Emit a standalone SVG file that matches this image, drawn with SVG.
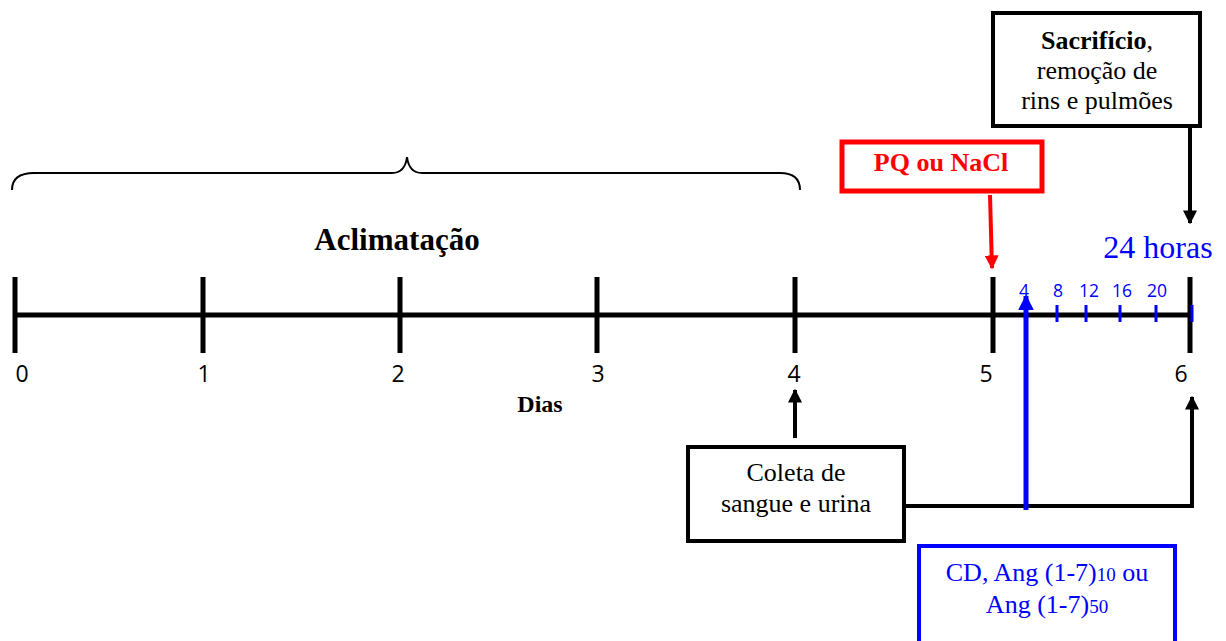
<svg xmlns="http://www.w3.org/2000/svg" width="1226" height="641" viewBox="0 0 1226 641">
  <defs>
    <marker id="ah-black" viewBox="0 0 10 10" refX="9" refY="5" markerWidth="3.5" markerHeight="3.5" orient="auto" markerUnits="strokeWidth">
      <path d="M0,0 L10,5 L0,10 z" fill="#000"/>
    </marker>
    <marker id="ah-red" viewBox="0 0 10 10" refX="9" refY="5" markerWidth="3.5" markerHeight="3.5" orient="auto" markerUnits="strokeWidth">
      <path d="M0,0 L10,5 L0,10 z" fill="#ff0000"/>
    </marker>
    <marker id="ah-blue" viewBox="0 0 10 10" refX="9" refY="5" markerWidth="3.2" markerHeight="3.2" orient="auto" markerUnits="strokeWidth">
      <path d="M0,0 L10,5 L0,10 z" fill="#0000ff"/>
    </marker>
  </defs>
  <style>
    .serif { font-family: "Liberation Serif", "Times New Roman", serif; }
    .sans { font-family: "Open Sans", "Liberation Sans", sans-serif; }
    .axis { stroke: #000; stroke-width: 5; fill: none; }
    .tick { stroke: #000; stroke-width: 5; }
    .btick { stroke: #0000ff; stroke-width: 3; }
    .box { fill: #fff; stroke: #000; stroke-width: 4; }
    .day { font-size: 23px; fill: #000; }
    .hour { font-size: 17.5px; fill: #0000ff; }
    .label { font-size: 26px; }
  </style>
  <rect width="1226" height="641" fill="#fff"/>

  <!-- brace over the acclimation days -->
  <g id="brace">
    <path d="M12,190 Q12,173 34,173 L392,173 Q405,173 407,157 Q409,173 422,173 L780,173 Q800,173 800,190" fill="none" stroke="#000" stroke-width="2"/>
    <text x="397" y="250" text-anchor="middle" class="serif" font-size="31" font-weight="bold">Aclimatação</text>
  </g>

  <!-- day axis -->
  <g id="axis">
    <line x1="14" y1="315" x2="1193" y2="315" class="axis"/>
    <line x1="15" y1="277" x2="15" y2="353" class="tick"/>
    <line x1="203" y1="277" x2="203" y2="353" class="tick"/>
    <line x1="400" y1="277" x2="400" y2="353" class="tick"/>
    <line x1="597" y1="277" x2="597" y2="353" class="tick"/>
    <line x1="795" y1="277" x2="795" y2="353" class="tick"/>
    <line x1="993" y1="277" x2="993" y2="353" class="tick"/>
    <line x1="1190" y1="277" x2="1190" y2="353" class="tick"/>
    <text x="22" y="382" text-anchor="middle" class="sans day">0</text>
    <text x="204" y="382" text-anchor="middle" class="sans day">1</text>
    <text x="398" y="382" text-anchor="middle" class="sans day">2</text>
    <text x="598" y="382" text-anchor="middle" class="sans day">3</text>
    <text x="794" y="382" text-anchor="middle" class="sans day">4</text>
    <text x="986" y="382" text-anchor="middle" class="sans day">5</text>
    <text x="1181" y="382" text-anchor="middle" class="sans day">6</text>
    <text x="540" y="412" text-anchor="middle" class="serif" font-size="24" font-weight="bold">Dias</text>
  </g>

  <!-- hour subdivisions of the last day -->
  <g id="hours">
    <line x1="1057" y1="305" x2="1057" y2="322" class="btick"/>
    <line x1="1086" y1="305" x2="1086" y2="322" class="btick"/>
    <line x1="1120" y1="305" x2="1120" y2="322" class="btick"/>
    <line x1="1156" y1="305" x2="1156" y2="322" class="btick"/>
    <line x1="1192" y1="305" x2="1192" y2="322" class="btick"/>
    <text x="1024" y="297" text-anchor="middle" class="sans hour">4</text>
    <text x="1058" y="297" text-anchor="middle" class="sans hour">8</text>
    <text x="1089" y="297" text-anchor="middle" class="sans hour">12</text>
    <text x="1122" y="297" text-anchor="middle" class="sans hour">16</text>
    <text x="1157" y="297" text-anchor="middle" class="sans hour">20</text>
    <text x="1158" y="258" text-anchor="middle" class="serif" font-size="32" fill="#0000ff">24 horas</text>
  </g>

  <!-- connectors -->
  <g id="connectors">
    <line x1="990" y1="195" x2="992" y2="268" stroke="#ff0000" stroke-width="4" marker-end="url(#ah-red)"/>
    <line x1="1190" y1="127" x2="1190" y2="223" stroke="#000" stroke-width="4" marker-end="url(#ah-black)"/>
    <line x1="795" y1="438" x2="795" y2="390" stroke="#000" stroke-width="4" marker-end="url(#ah-black)"/>
    <polyline points="905,506 1192,506 1192,397" fill="none" stroke="#000" stroke-width="4" marker-end="url(#ah-black)"/>
    <line x1="1026" y1="510" x2="1026" y2="296" stroke="#0000ff" stroke-width="5" marker-end="url(#ah-blue)"/>
  </g>

  <!-- treatment box -->
  <g id="treatment">
    <rect x="842" y="142" width="200" height="49" fill="#fff" stroke="#ff0000" stroke-width="5"/>
    <text x="941" y="171" text-anchor="middle" class="serif" font-size="26" font-weight="bold" fill="#ff0000">PQ ou NaCl</text>
  </g>

  <!-- sacrifice box -->
  <g id="sacrifice">
    <rect x="993" y="13" width="207" height="113" class="box"/>
    <text x="1097" y="49" text-anchor="middle" class="serif label"><tspan font-weight="bold">Sacrifício</tspan>,</text>
    <text x="1097" y="79" text-anchor="middle" class="serif label">remoção de</text>
    <text x="1097" y="109" text-anchor="middle" class="serif label">rins e pulmões</text>
  </g>

  <!-- sampling box -->
  <g id="sampling">
    <rect x="688" y="447" width="216" height="94" class="box"/>
    <text x="796" y="481" text-anchor="middle" class="serif label">Coleta de</text>
    <text x="796" y="512" text-anchor="middle" class="serif label">sangue e urina</text>
  </g>

  <!-- treatment groups box -->
  <g id="groups">
    <rect x="919" y="546" width="256" height="100" fill="#fff" stroke="#0000ff" stroke-width="4"/>
    <text x="1047" y="581" text-anchor="middle" class="serif label" fill="#0000ff">CD, Ang (1-7)<tspan font-size="19">10</tspan> ou</text>
    <text x="1047" y="613" text-anchor="middle" class="serif label" fill="#0000ff">Ang (1-7)<tspan font-size="19">50</tspan></text>
  </g>
</svg>
